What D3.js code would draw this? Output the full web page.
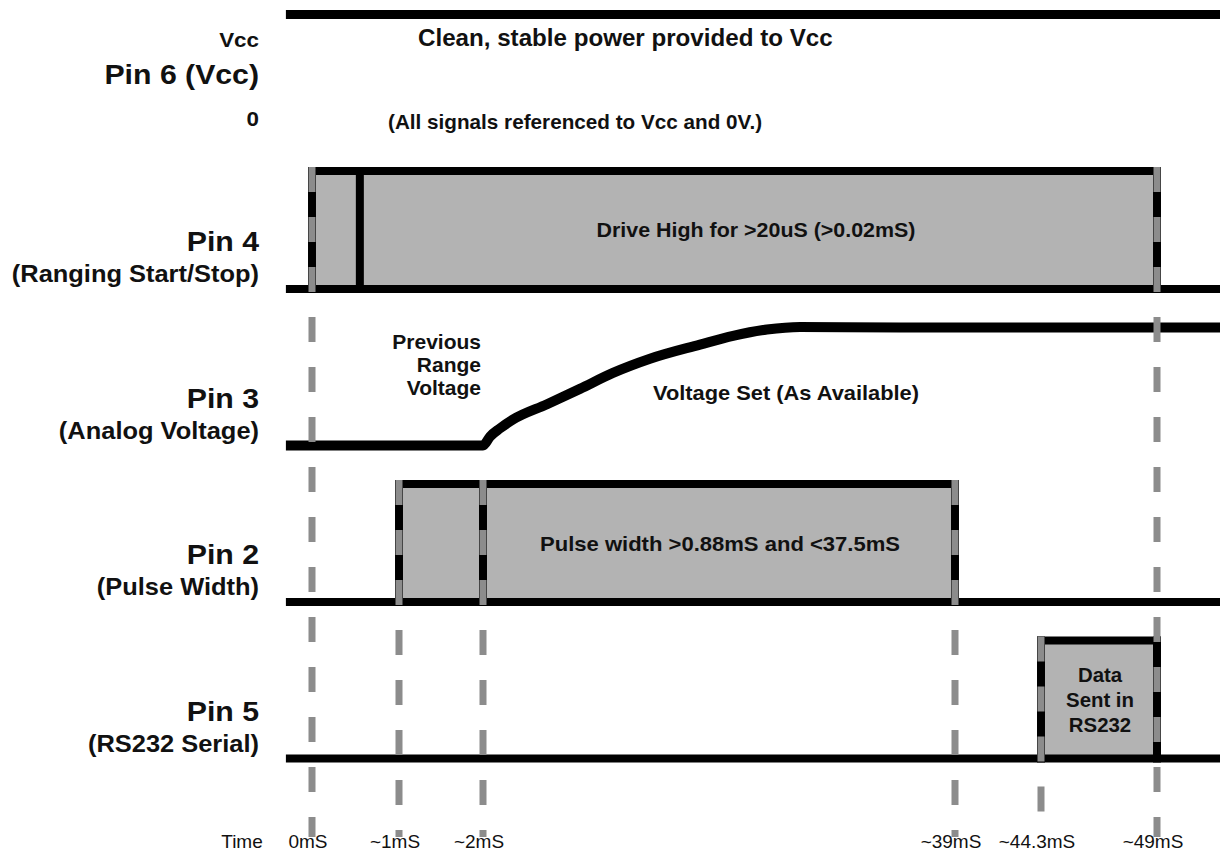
<!DOCTYPE html>
<html><head><meta charset="utf-8">
<script src="https://cdn.jsdelivr.net/npm/d3@7"></script>
<style>html,body{margin:0;padding:0;background:#fff;} svg{display:block}</style>
</head><body>
<svg id="chart" width="1220" height="854"></svg>
<script>
// ---------- DATA ----------
const pins = ["Pin 6 (Vcc)", "Pin 4", "Pin 3", "Pin 2", "Pin 5"];
const pinSubtitles = ["", "(Ranging Start/Stop)", "(Analog Voltage)", "(Pulse Width)", "(RS232 Serial)"];
const timeLabels = ["0mS", "~1mS", "~2mS", "~39mS", "~44.3mS", "~49mS"];
const timeValues = [0, 1, 2, 39, 44.3, 49];
const guideStartPin = ["Pin 4", "Pin 2", "Pin 2", "Pin 2", "Pin 5", "Pin 4"];
// digital pulses: pin, start (ms), end (ms)
const pulsePins   = ["Pin 4", "Pin 2", "Pin 5"];
const pulseStarts = [0, 1, 44.3];
const pulseEnds   = [49, 39, 49];
// internal edges inside pulses
const markPins  = ["Pin 4", "Pin 2"];
const markTimes = [0.55, 2];
// analog voltage on pin 3: time (ms), relative level 0..1
const pin3Times  = [-0.3, 2, 2.55, 3.33, 4.35, 7.02, 9.6, 12.19, 15.09, 19.01, 21.6, 24.26, 26.85, 34.69, 51.6];
const pin3Levels = [0, 0, 0.076, 0.145, 0.22, 0.35, 0.48, 0.615, 0.735, 0.855, 0.93, 0.983, 1.005, 1.0, 1.0];
// Vcc rail
const vccTimes = [-0.3, 51.6];
const vccLevels = [1, 1];
const tStart = -0.3, tEnd = 51.6;

// ---------- SCALES ----------
const svg = d3.select("#chart");
const x = d3.scaleLinear().domain(timeValues).range([312, 399, 483, 955, 1041, 1157]);
const lane = d3.scalePoint().domain(pins).range([132.5, 758.5]);
const amp = 118;
const y = (pin, lvl) => lane(pin) - lvl * amp;

const BLACK = "#000", FILL = "#b3b3b3", GUIDE = "#8c8c8c";
const SW = 8;

const gFill = svg.append("g"), gLines = svg.append("g"), gGuides = svg.append("g"), gText = svg.append("g");

// pulse fills
gFill.selectAll("rect").data(pulsePins).join("rect")
  .attr("x", (p, i) => x(pulseStarts[i]))
  .attr("width", (p, i) => x(pulseEnds[i]) - x(pulseStarts[i]))
  .attr("y", p => y(p, 1))
  .attr("height", amp)
  .attr("fill", FILL);

// baselines of digital pins
const digitalPins = ["Pin 4", "Pin 2", "Pin 5"];
gLines.selectAll("line.base").data(digitalPins).join("line").attr("class", "base")
  .attr("x1", x(tStart)).attr("x2", x(tEnd))
  .attr("y1", p => y(p, 0)).attr("y2", p => y(p, 0))
  .attr("stroke", BLACK).attr("stroke-width", SW);

// pulse tops
gLines.selectAll("line.top").data(pulsePins).join("line").attr("class", "top")
  .attr("x1", (p, i) => x(pulseStarts[i]) - SW / 2).attr("x2", (p, i) => x(pulseEnds[i]) + SW / 2)
  .attr("y1", p => y(p, 1)).attr("y2", p => y(p, 1))
  .attr("stroke", BLACK).attr("stroke-width", SW);

// pulse edges
const edges = [];
pulsePins.forEach((p, i) => { edges.push([p, pulseStarts[i]]); edges.push([p, pulseEnds[i]]); });
markPins.forEach((p, i) => edges.push([p, markTimes[i]]));
gLines.selectAll("line.edge").data(edges).join("line").attr("class", "edge")
  .attr("x1", d => x(d[1])).attr("x2", d => x(d[1]))
  .attr("y1", d => y(d[0], 1) - SW / 2).attr("y2", d => y(d[0], 0) + SW / 2)
  .attr("stroke", BLACK).attr("stroke-width", SW);

// analog curve pin 3
const analog = d3.line().x(d => x(d[0])).y(d => y("Pin 3", d[1])).curve(d3.curveMonotoneX);
gLines.append("path").datum(d3.zip(pin3Times, pin3Levels)).attr("d", analog)
  .attr("fill", "none").attr("stroke", BLACK).attr("stroke-width", 10);

// Vcc rail
const rail = d3.line().x(d => x(d[0])).y(d => y("Pin 6 (Vcc)", d[1]));
gLines.append("path").datum(d3.zip(vccTimes, vccLevels)).attr("d", rail)
  .attr("fill", "none").attr("stroke", BLACK).attr("stroke-width", 9);

// dashed time guides
gGuides.selectAll("line").data(timeValues).join("line")
  .attr("x1", d => x(d)).attr("x2", d => x(d))
  .attr("y1", (d, i) => y(guideStartPin[i], 1) - SW / 2)
  .attr("y2", 837)
  .attr("stroke", GUIDE).attr("stroke-width", 7)
  .attr("stroke-dasharray", "25,25");

// ---------- TEXT ----------
const F = "'Liberation Sans', Arial, Helvetica, sans-serif";
function txt(t, px, py, size, anchor, weight, sx) {
  return gText.append("text").text(t)
    .attr("transform", `translate(${px},${py}) scale(${sx || 1},1)`)
    .attr("font-family", F).attr("font-size", size).attr("font-weight", weight || "bold")
    .attr("text-anchor", anchor || "start").attr("fill", "#111");
}
const LX = 259;
// pin labels
pins.forEach((p, i) => {
  if (i === 0) return;
  txt(p, LX, lane(p) - 38, 28, "end", "bold", 1.08);
  txt(pinSubtitles[i], LX, lane(p) - 7, 24, "end", "bold", 1.06);
});
const l6 = lane("Pin 6 (Vcc)");
txt("Vcc", LX, l6 - 85.5, 20, "end", "bold", 1.12);
txt(pins[0], LX, l6 - 48.5, 28, "end", "bold", 1.08);
txt("0", LX, l6 - 6.5, 20, "end", "bold", 1.12);

txt("Clean, stable power provided to Vcc", 418, l6 - 87, 23, "start", "bold", 1.05);
txt("(All signals referenced to Vcc and 0V.)", 388, l6 - 4, 20, "start", "bold", 1.035);

txt("Drive High for >20uS (>0.02mS)", 756, lane("Pin 4") - 52, 21, "middle", "bold", 1.02);
["Previous", "Range", "Voltage"].forEach((s, i) => txt(s, 481, lane("Pin 3") - 97 + i * 23, 21, "end", "bold", 1.0));
txt("Voltage Set (As Available)", 786, lane("Pin 3") - 46, 21, "middle", "bold", 1.04);
txt("Pulse width >0.88mS and <37.5mS", 720, lane("Pin 2") - 51, 21, "middle", "bold", 1.05);
["Data", "Sent in", "RS232"].forEach((s, i) => txt(s, 1100, lane("Pin 5") - 77 + i * 25, 20, "middle", "bold", 1.02));

// time axis labels
txt("Time", 242, 848, 19, "middle", "normal", 1.0);
timeValues.forEach((t, i) => txt(timeLabels[i], x(t) - 4, 848, 19, "middle", "normal", 1.0));
</script>
</body></html>
